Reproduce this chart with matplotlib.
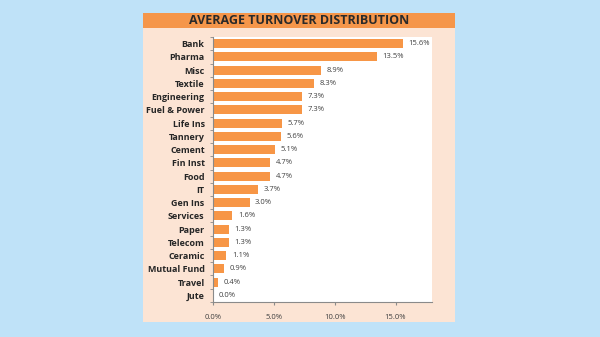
import numpy as np
import matplotlib
matplotlib.use("Agg")
import matplotlib.pyplot as plt
from matplotlib.patches import Rectangle
from matplotlib.ticker import FuncFormatter

sectors = ["Bank", "Pharma", "Misc", "Textile", "Engineering", "Fuel & Power",
           "Life Ins", "Tannery", "Cement", "Fin Inst", "Food", "IT", "Gen Ins",
           "Services", "Paper", "Telecom", "Ceramic", "Mutual Fund", "Travel", "Jute"]
turnover = [15.6, 13.5, 8.9, 8.3, 7.3, 7.3, 5.7, 5.6, 5.1, 4.7, 4.7, 3.7, 3.0,
            1.6, 1.3, 1.3, 1.1, 0.9, 0.4, 0.0]
x_ticks = [0, 5, 10, 15]

plt.rcParams['font.family'] = ['Open Sans', 'DejaVu Sans']

fig = plt.figure(figsize=(6, 3.37), dpi=100)
fig.patch.set_facecolor("#bfe2f8")

# peach panel + title bar
fig.patches.append(Rectangle((0.238, 0.045), 0.52, 0.917, transform=fig.transFigure,
                             facecolor="#fce4d4", edgecolor="none", zorder=0))
fig.patches.append(Rectangle((0.238, 0.917), 0.52, 0.045, transform=fig.transFigure,
                             facecolor="#f5964a", edgecolor="none", zorder=1))
fig.text(0.498, 0.94, "AVERAGE TURNOVER DISTRIBUTION", ha="center", va="center",
         fontsize=9, fontweight="bold", color="#2a2a2a")

ax = fig.add_axes([0.355, 0.104, 0.365, 0.786])
ax.set_zorder(5)
ax.set_facecolor("white")

y = np.arange(len(sectors))
ax.barh(y, turnover, height=0.68, color="#f79646", zorder=2)
for yi, v in zip(y, turnover):
    ax.text(v + 0.45, yi, f"{v:.1f}%", va="center", ha="left", fontsize=5.5, color="#404040")

ax.set_ylim(len(sectors) - 0.5, -0.5)
ax.set_xlim(0, 18)
ax.set_yticks(y)
ax.set_yticklabels(sectors, fontsize=6.5, fontweight="bold", color="#262626")
ax.set_yticks(np.arange(len(sectors) + 1) - 0.5, minor=True)
ax.tick_params(axis="y", which="major", length=0, pad=6)
ax.tick_params(axis="y", which="minor", length=2.5, color="#8a8a8a")
ax.set_xticks(x_ticks)
ax.xaxis.set_major_formatter(FuncFormatter(lambda v, p: f"{v:.1f}%"))
ax.tick_params(axis="x", length=2.5, color="#8a8a8a", labelsize=5.5, labelcolor="#404040", pad=6)

for s in ["top", "right"]:
    ax.spines[s].set_visible(False)
for s in ["left", "bottom"]:
    ax.spines[s].set_color("#8a8a8a")
    ax.spines[s].set_linewidth(0.8)

fig.savefig("out.png", dpi=100, facecolor=fig.get_facecolor())
